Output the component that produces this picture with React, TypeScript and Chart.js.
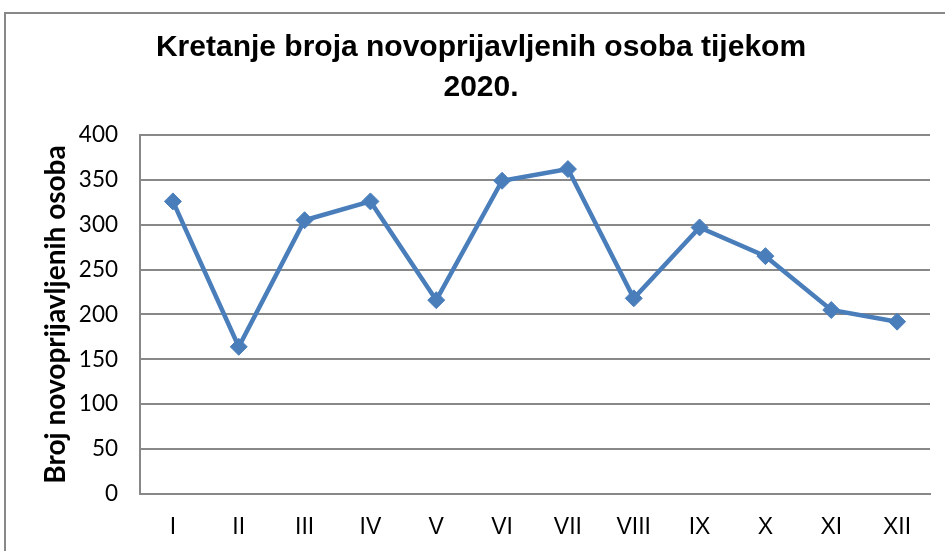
import React, { useEffect, useRef } from "react";
import { Chart, registerables } from "chart.js";

Chart.register(...registerables);

const titleLines = ["Kretanje broja novoprijavljenih osoba tijekom", "2020."];
const yAxisTitle = "Broj novoprijavljenih osoba";
const months = ["I", "II", "III", "IV", "V", "VI", "VII", "VIII", "IX", "X", "XI", "XII"];
const newRegistrations = [326, 164, 305, 326, 216, 349, 362, 218, 297, 265, 205, 192];
const yMin = 0;
const yMax = 400;
const yStep = 50;

const GRID = "#888888";
const LINE = "#4a7ebb";

export default function App() {
  const ref = useRef<HTMLCanvasElement>(null);

  useEffect(() => {
    if (!ref.current) return;
    const chart = new Chart(ref.current, {
      type: "line",
      data: {
        labels: months,
        datasets: [
          {
            data: newRegistrations,
            borderColor: LINE,
            backgroundColor: LINE,
            borderWidth: 4.5,
            pointStyle: "rectRot",
            pointRadius: 8.5,
            pointBorderWidth: 1,
            pointBackgroundColor: LINE,
            pointBorderColor: LINE,
            tension: 0,
          },
        ],
      },
      options: {
        animation: false,
        responsive: false,
        maintainAspectRatio: false,
        layout: { padding: { left: 32, right: 15, top: 0, bottom: 0 } },
        plugins: {
          legend: { display: false },
          tooltip: { enabled: false },
          title: {
            display: true,
            text: titleLines,
            color: "#000",
            font: { family: "'Liberation Sans', Arial, sans-serif", size: 30, weight: "bold", lineHeight: 1.333 },
            padding: { top: 28, bottom: 27 },
          },
        },
        scales: {
          x: {
            offset: true,
            grid: { display: false, drawTicks: false },
            border: { display: true, color: GRID, width: 2 },
            ticks: {
              color: "#000",
              padding: 20,
              maxRotation: 0,
              autoSkip: false,
              font: { family: "'Liberation Sans', Arial, sans-serif", size: 23 },
            },
            afterFit: (s: any) => {
              s.height = 57;
            },
          },
          y: {
            min: yMin,
            max: yMax,
            grid: { color: GRID, lineWidth: 2, drawTicks: false },
            border: { display: true, color: GRID, width: 2 },
            ticks: {
              stepSize: yStep,
              color: "#000",
              padding: 22,
              font: { family: "Lato, 'Liberation Sans', sans-serif", size: 22.5 },
            },
            title: {
              display: true,
              text: yAxisTitle,
              color: "#000",
              font: { family: "Lato, 'Liberation Sans', sans-serif", size: 28, weight: "bold", lineHeight: 1.2 },
              padding: { top: 7, bottom: 0 },
            },
            afterFit: (s: any) => {
              s.width = 108;
            },
          },
        },
      },
    });
    return () => chart.destroy();
  }, []);

  return (
    <div style={{ position: "fixed", left: 0, top: 0, width: 945, height: 551, background: "#fff", overflow: "hidden" }}>
      <div
        style={{
          position: "absolute",
          left: 4,
          top: 12,
          width: 1000,
          height: 1000,
          border: "2px solid #888888",
          boxSizing: "border-box",
        }}
      />
      <canvas ref={ref} width={945} height={551} style={{ position: "absolute", left: 0, top: 0, width: 945, height: 551 }} />
    </div>
  );
}
